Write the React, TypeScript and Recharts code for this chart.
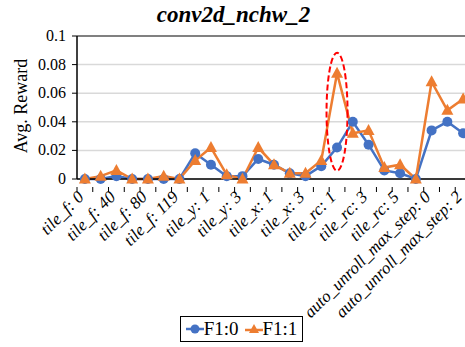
import {
  LineChart,
  Line,
  XAxis,
  YAxis,
  CartesianGrid,
  Legend,
  ReferenceLine,
  ReferenceDot,
} from "recharts";

const categories = [
  "tile_f: 0",
  "tile_f: 20",
  "tile_f: 40",
  "tile_f: 60",
  "tile_f: 80",
  "tile_f: 100",
  "tile_f: 119",
  "tile_y: 0",
  "tile_y: 1",
  "tile_y: 2",
  "tile_y: 3",
  "tile_x: 0",
  "tile_x: 1",
  "tile_x: 2",
  "tile_x: 3",
  "tile_rc: 0",
  "tile_rc: 1",
  "tile_rc: 2",
  "tile_rc: 3",
  "tile_rc: 4",
  "tile_rc: 5",
  "auto_unroll_max_step: -1",
  "auto_unroll_max_step: 0",
  "auto_unroll_max_step: 1",
  "auto_unroll_max_step: 2",
];

const f10 = [
  0, 0, 0.002, 0, 0, 0, 0, 0.018, 0.01, 0.002, 0.002, 0.014, 0.01, 0.004, 0.002,
  0.009, 0.022, 0.04, 0.024, 0.006, 0.004, 0, 0.034, 0.04, 0.032,
];

const f11 = [
  0, 0.002, 0.006, 0, 0, 0.002, 0, 0.013, 0.022, 0.003, 0, 0.022, 0.01, 0.004,
  0.004, 0.013, 0.074, 0.032, 0.034, 0.008, 0.01, 0, 0.068, 0.048, 0.056,
];

const yTicks = [0, 0.02, 0.04, 0.06, 0.08, 0.1];

const data = categories.map((name, i) => ({ name, f10: f10[i], f11: f11[i] }));

const BLUE = "#4472C4";
const ORANGE = "#ED7D31";
const SERIF = "'Liberation Serif', serif";

const CHART_W = 471;
const Y_W = 77;
const BAND = (CHART_W - Y_W) / categories.length;

function XTick(props: any) {
  const { x, y, payload, index } = props;
  const last = index === categories.length - 1;
  const ax = x;
  const ay = y + 11;
  return (
    <g>
      <line x1={x - BAND / 2} x2={x - BAND / 2} y1={y} y2={y + 5} stroke="#000" />
      {last && (
        <line x1={x + BAND / 2} x2={x + BAND / 2} y1={y} y2={y + 5} stroke="#000" />
      )}
      {index % 2 === 0 && (
        <text
          x={ax}
          y={ay}
          textAnchor="end"
          transform={`rotate(-45, ${ax}, ${ay})`}
          style={{ fontFamily: SERIF, fontStyle: "italic", fontSize: 17 }}
          fill="#000"
        >
          {payload.value}
        </text>
      )}
    </g>
  );
}

function YTick(props: any) {
  const { x, y, payload } = props;
  return (
    <text
      x={x}
      y={y}
      dy={5}
      textAnchor="end"
      style={{ fontFamily: SERIF, fontSize: 16 }}
      fill="#000"
    >
      {String(payload.value)}
    </text>
  );
}

function Triangle(props: any) {
  const { cx, cy } = props;
  if (cx == null || cy == null) return null;
  return (
    <path
      d={`M${cx},${cy - 6.5} L${cx + 6},${cy + 4.5} L${cx - 6},${cy + 4.5} Z`}
      fill={ORANGE}
    />
  );
}

function LegendBox() {
  return (
    <div style={{ textAlign: "center", paddingLeft: 12 }}>
      <div
        style={{
          display: "inline-flex",
          alignItems: "center",
          border: "1px solid #000",
          padding: "1px 5px",
          fontFamily: SERIF,
          fontSize: 19,
          lineHeight: "22px",
        }}
      >
        <svg width={18} height={12}>
          <line x1={0} x2={18} y1={6} y2={6} stroke={BLUE} strokeWidth={2.5} />
          <circle cx={9} cy={6} r={4.5} fill={BLUE} />
        </svg>
        <span style={{ marginRight: 6 }}>F1:0</span>
        <svg width={18} height={12}>
          <line x1={0} x2={18} y1={7} y2={7} stroke={ORANGE} strokeWidth={2.5} />
          <path d="M9,1 L14,10 L4,10 Z" fill={ORANGE} />
        </svg>
        <span>F1:1</span>
      </div>
    </div>
  );
}

export default function App() {
  return (
    <div
      style={{
        position: "relative",
        width: 465,
        height: 347,
        overflow: "hidden",
        background: "#fff",
      }}
    >
      <style>{"body{margin:0}"}</style>
      <div
        style={{
          position: "absolute",
          top: 0,
          left: 0,
          width: 467,
          textAlign: "center",
          fontFamily: SERIF,
          fontWeight: "bold",
          fontStyle: "italic",
          fontSize: 23,
          lineHeight: "30px",
        }}
      >
        conv2d_nchw_2
      </div>
      <LineChart
        width={CHART_W}
        height={347}
        data={data}
        margin={{ top: 36, right: 0, left: 0, bottom: 3 }}
      >
        <CartesianGrid vertical={false} stroke="#d9d9d9" strokeWidth={1.5} />
        <ReferenceLine y={0.1} stroke="#808080" strokeWidth={2} />
        <XAxis
          dataKey="name"
          scale="band"
          interval={0}
          height={137}
          tickLine={false}
          axisLine={{ stroke: "#000", strokeWidth: 1.5 }}
          tick={<XTick />}
        />
        <YAxis
          width={Y_W}
          domain={[0, 0.1]}
          ticks={yTicks}
          axisLine={{ stroke: "#000", strokeWidth: 1.5 }}
          tickLine={{ stroke: "#000" }}
          tickSize={5}
          tickMargin={6}
          tick={<YTick />}
          label={{
            content: () => (
              <text
                x={27}
                y={106}
                textAnchor="middle"
                transform="rotate(-90, 27, 106)"
                style={{ fontFamily: SERIF, fontSize: 18 }}
                fill="#000"
              >
                Avg. Reward
              </text>
            ),
          }}
        />
        <Legend verticalAlign="bottom" height={28} content={<LegendBox />} />
        <Line
          type="linear"
          dataKey="f10"
          name="F1:0"
          stroke={BLUE}
          strokeWidth={2.5}
          dot={{ r: 5, fill: BLUE, stroke: BLUE, strokeWidth: 0 }}
          isAnimationActive={false}
        />
        <Line
          type="linear"
          dataKey="f11"
          name="F1:1"
          stroke={ORANGE}
          strokeWidth={2.5}
          dot={<Triangle />}
          isAnimationActive={false}
        />
        <ReferenceDot
          x="tile_rc: 1"
          y={0.047}
          shape={(p: any) => (
            <ellipse
              cx={p.cx}
              cy={p.cy}
              rx={10.5}
              ry={59}
              fill="none"
              stroke="#FF0000"
              strokeWidth={2}
              strokeDasharray="6 3"
            />
          )}
        />
      </LineChart>
    </div>
  );
}
